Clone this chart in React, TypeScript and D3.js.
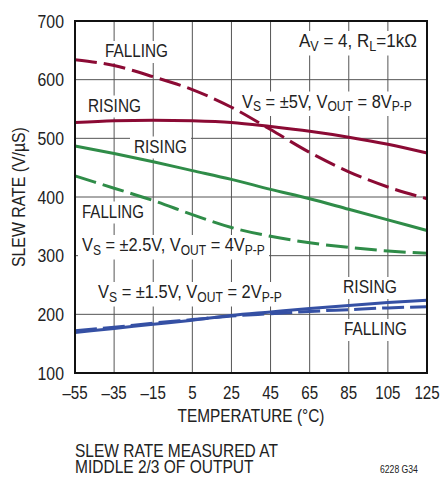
import React, { useEffect, useRef } from "react";
import * as d3 from "d3";

const temps = [-55, -35, -15, 5, 25, 45, 65, 85, 105, 125];
const red5Rising = [527, 530, 531, 530, 527, 520, 512, 502, 490, 475];
const red5Falling = [634, 624, 605, 583, 553, 515, 476, 443, 417, 397];
const green25Rising = [487, 474, 460, 445, 430, 413, 397, 379, 361, 343];
const green25Falling = [436, 415, 394, 370, 348, 333, 322, 314, 308, 304];
const blue15Rising = [169, 176, 183, 190, 198, 204, 210, 215, 220, 224];
const blue15Falling = [172, 178, 185, 191, 197, 201, 205, 208, 211, 213];

const xTicks = [-55, -35, -15, 5, 25, 45, 65, 85, 105, 125];
const yTicks = [100, 200, 300, 400, 500, 600, 700];
const noteLines = ["SLEW RATE MEASURED AT", "MIDDLE 2/3 OF OUTPUT"];

const RED = "#8b0a34";
const GREEN = "#2f8c48";
const BLUE = "#3550a4";
const INK = "#222";

const FONT = "'Liberation Sans', Arial, Helvetica, sans-serif";

type Part = { t: string; sub?: boolean };

export default function App() {
  const ref = useRef<SVGSVGElement | null>(null);

  useEffect(() => {
    const svg = d3.select(ref.current);
    svg.selectAll("*").remove();

    const L = 75, R = 427, T = 21, B = 373;
    const x = d3.scaleLinear().domain([-55, 125]).range([L, R]);
    const y = d3.scaleLinear().domain([100, 700]).range([B, T]);

    const gGrid = svg.append("g");
    const gBg = svg.append("g");
    const gLines = svg.append("g");
    const gText = svg.append("g");

    const addText = (
      parent: any, px: number, py: number, parts: Part[], size: number,
      opts: { width?: number; sx?: number; anchor?: "start" | "middle" | "end"; rotate?: number; bg?: boolean }
    ) => {
      const g = parent.append("g");
      const txt = g.append("text").attr("x", 0).attr("y", 0)
        .attr("font-family", FONT).attr("font-size", size).attr("fill", INK);
      let shifted = false;
      const subSize = Math.round(size * 0.74);
      parts.forEach((p) => {
        const ts = txt.append("tspan").text(p.t);
        if (p.sub) {
          ts.attr("font-size", subSize);
          if (!shifted) { ts.attr("dy", 3.5); shifted = true; }
        } else if (shifted) { ts.attr("dy", -3.5); shifted = false; }
      });
      const bb = (txt.node() as SVGTextElement).getBBox();
      const sx = opts.width ? opts.width / bb.width : (opts.sx ?? 0.82);
      const w = bb.width * sx;
      const anchor = opts.anchor ?? "start";
      const off = anchor === "start" ? 0 : anchor === "middle" ? -w / 2 : -w;
      const rot = opts.rotate ? ` rotate(${opts.rotate})` : "";
      g.attr("transform", `translate(${px},${py})${rot} translate(${off},0) scale(${sx},1)`);
      if (opts.bg) {
        gBg.append("rect").attr("x", px + off - 4).attr("y", py + bb.y + 1)
          .attr("width", w + 8).attr("height", bb.height + 1).attr("fill", "#fff");
      }
    };

    // grid
    xTicks.slice(1, -1).forEach((t) => {
      gGrid.append("line").attr("x1", x(t)).attr("x2", x(t)).attr("y1", T).attr("y2", B)
        .attr("stroke", "#555").attr("stroke-width", 1);
    });
    yTicks.slice(1, -1).forEach((t) => {
      gGrid.append("line").attr("x1", L).attr("x2", R).attr("y1", y(t)).attr("y2", y(t))
        .attr("stroke", "#555").attr("stroke-width", 1);
    });

    // curves
    const line = d3.line<number>()
      .x((_, i) => x(temps[i]))
      .y((d) => y(d))
      .curve(d3.curveMonotoneX);

    const series: { v: number[]; c: string; dash?: string; w: number }[] = [
      { v: blue15Falling, c: BLUE, dash: "22,6", w: 3 },
      { v: blue15Rising, c: BLUE, w: 3 },
      { v: green25Falling, c: GREEN, dash: "22,7", w: 3 },
      { v: green25Rising, c: GREEN, w: 3 },
      { v: red5Falling, c: RED, dash: "22,7", w: 3 },
      { v: red5Rising, c: RED, w: 3 },
    ];
    series.forEach((s) => {
      gLines.append("path").attr("d", line(s.v) as string).attr("fill", "none")
        .attr("stroke", s.c).attr("stroke-width", s.w)
        .attr("stroke-dasharray", s.dash ?? null);
    });

    // frame
    svg.append("rect").attr("x", L).attr("y", T).attr("width", R - L).attr("height", B - T)
      .attr("fill", "none").attr("stroke", "#111").attr("stroke-width", 2);

    // in-plot labels
    const labels: { parts: Part[]; x: number; y: number; w: number }[] = [
      { parts: [{ t: "FALLING" }], x: 105, y: 57, w: 63 },
      { parts: [{ t: "RISING" }], x: 88, y: 111.5, w: 53 },
      { parts: [{ t: "RISING" }], x: 134, y: 152.5, w: 53 },
      { parts: [{ t: "A" }, { t: "V", sub: true }, { t: " = 4, R" }, { t: "L", sub: true }, { t: "=1kΩ" }], x: 299, y: 47, w: 118 },
      { parts: [{ t: "V" }, { t: "S", sub: true }, { t: " = ±5V, V" }, { t: "OUT", sub: true }, { t: " = 8V" }, { t: "P-P", sub: true }], x: 242, y: 107.5, w: 170 },
      { parts: [{ t: "FALLING" }], x: 82, y: 217.5, w: 62 },
      { parts: [{ t: "V" }, { t: "S", sub: true }, { t: " = ±2.5V, V" }, { t: "OUT", sub: true }, { t: " = 4V" }, { t: "P-P", sub: true }], x: 82, y: 251, w: 183 },
      { parts: [{ t: "V" }, { t: "S", sub: true }, { t: " = ±1.5V, V" }, { t: "OUT", sub: true }, { t: " = 2V" }, { t: "P-P", sub: true }], x: 98, y: 298, w: 184 },
      { parts: [{ t: "RISING" }], x: 343, y: 293, w: 54 },
      { parts: [{ t: "FALLING" }], x: 344, y: 335, w: 63 },
    ];
    labels.forEach((lb) => addText(gText, lb.x, lb.y, lb.parts, 19, { width: lb.w, bg: true }));

    // ticks
    xTicks.forEach((t) => {
      addText(svg, x(t), 399, [{ t: t < 0 ? "\u2013" + Math.abs(t) : String(t) }], 18, { sx: 0.84, anchor: "middle" });
    });
    yTicks.forEach((t) => {
      addText(svg, 64, y(t) + 6.5, [{ t: String(t) }], 18, { sx: 0.88, anchor: "end" });
    });

    // axis titles
    addText(svg, (L + R) / 2, 421.5, [{ t: "TEMPERATURE (°C)" }], 19, { width: 147, anchor: "middle" });
    addText(svg, 25, 197, [{ t: "SLEW RATE (V/µS)" }], 18, { width: 140, anchor: "middle", rotate: -90 });

    // note (two-line single text)
    const ng = svg.append("g");
    const nt = ng.append("text").attr("font-family", FONT).attr("font-size", 18).attr("fill", INK);
    noteLines.forEach((s, i) => {
      nt.append("tspan").attr("x", 0).attr("dy", i === 0 ? 0 : 17).text(s);
    });
    const firstLen = (nt.select("tspan").node() as SVGTextContentElement).getComputedTextLength();
    ng.attr("transform", `translate(75,456.5) scale(${203 / firstLen},1)`);

    addText(svg, 418, 472.5, [{ t: "6228 G34" }], 11, { width: 38, anchor: "end" });
  }, []);

  return (
    <svg ref={ref} width={440} height={479}
      style={{ position: "absolute", left: 0, top: 0, background: "#fff" }} />
  );
}
